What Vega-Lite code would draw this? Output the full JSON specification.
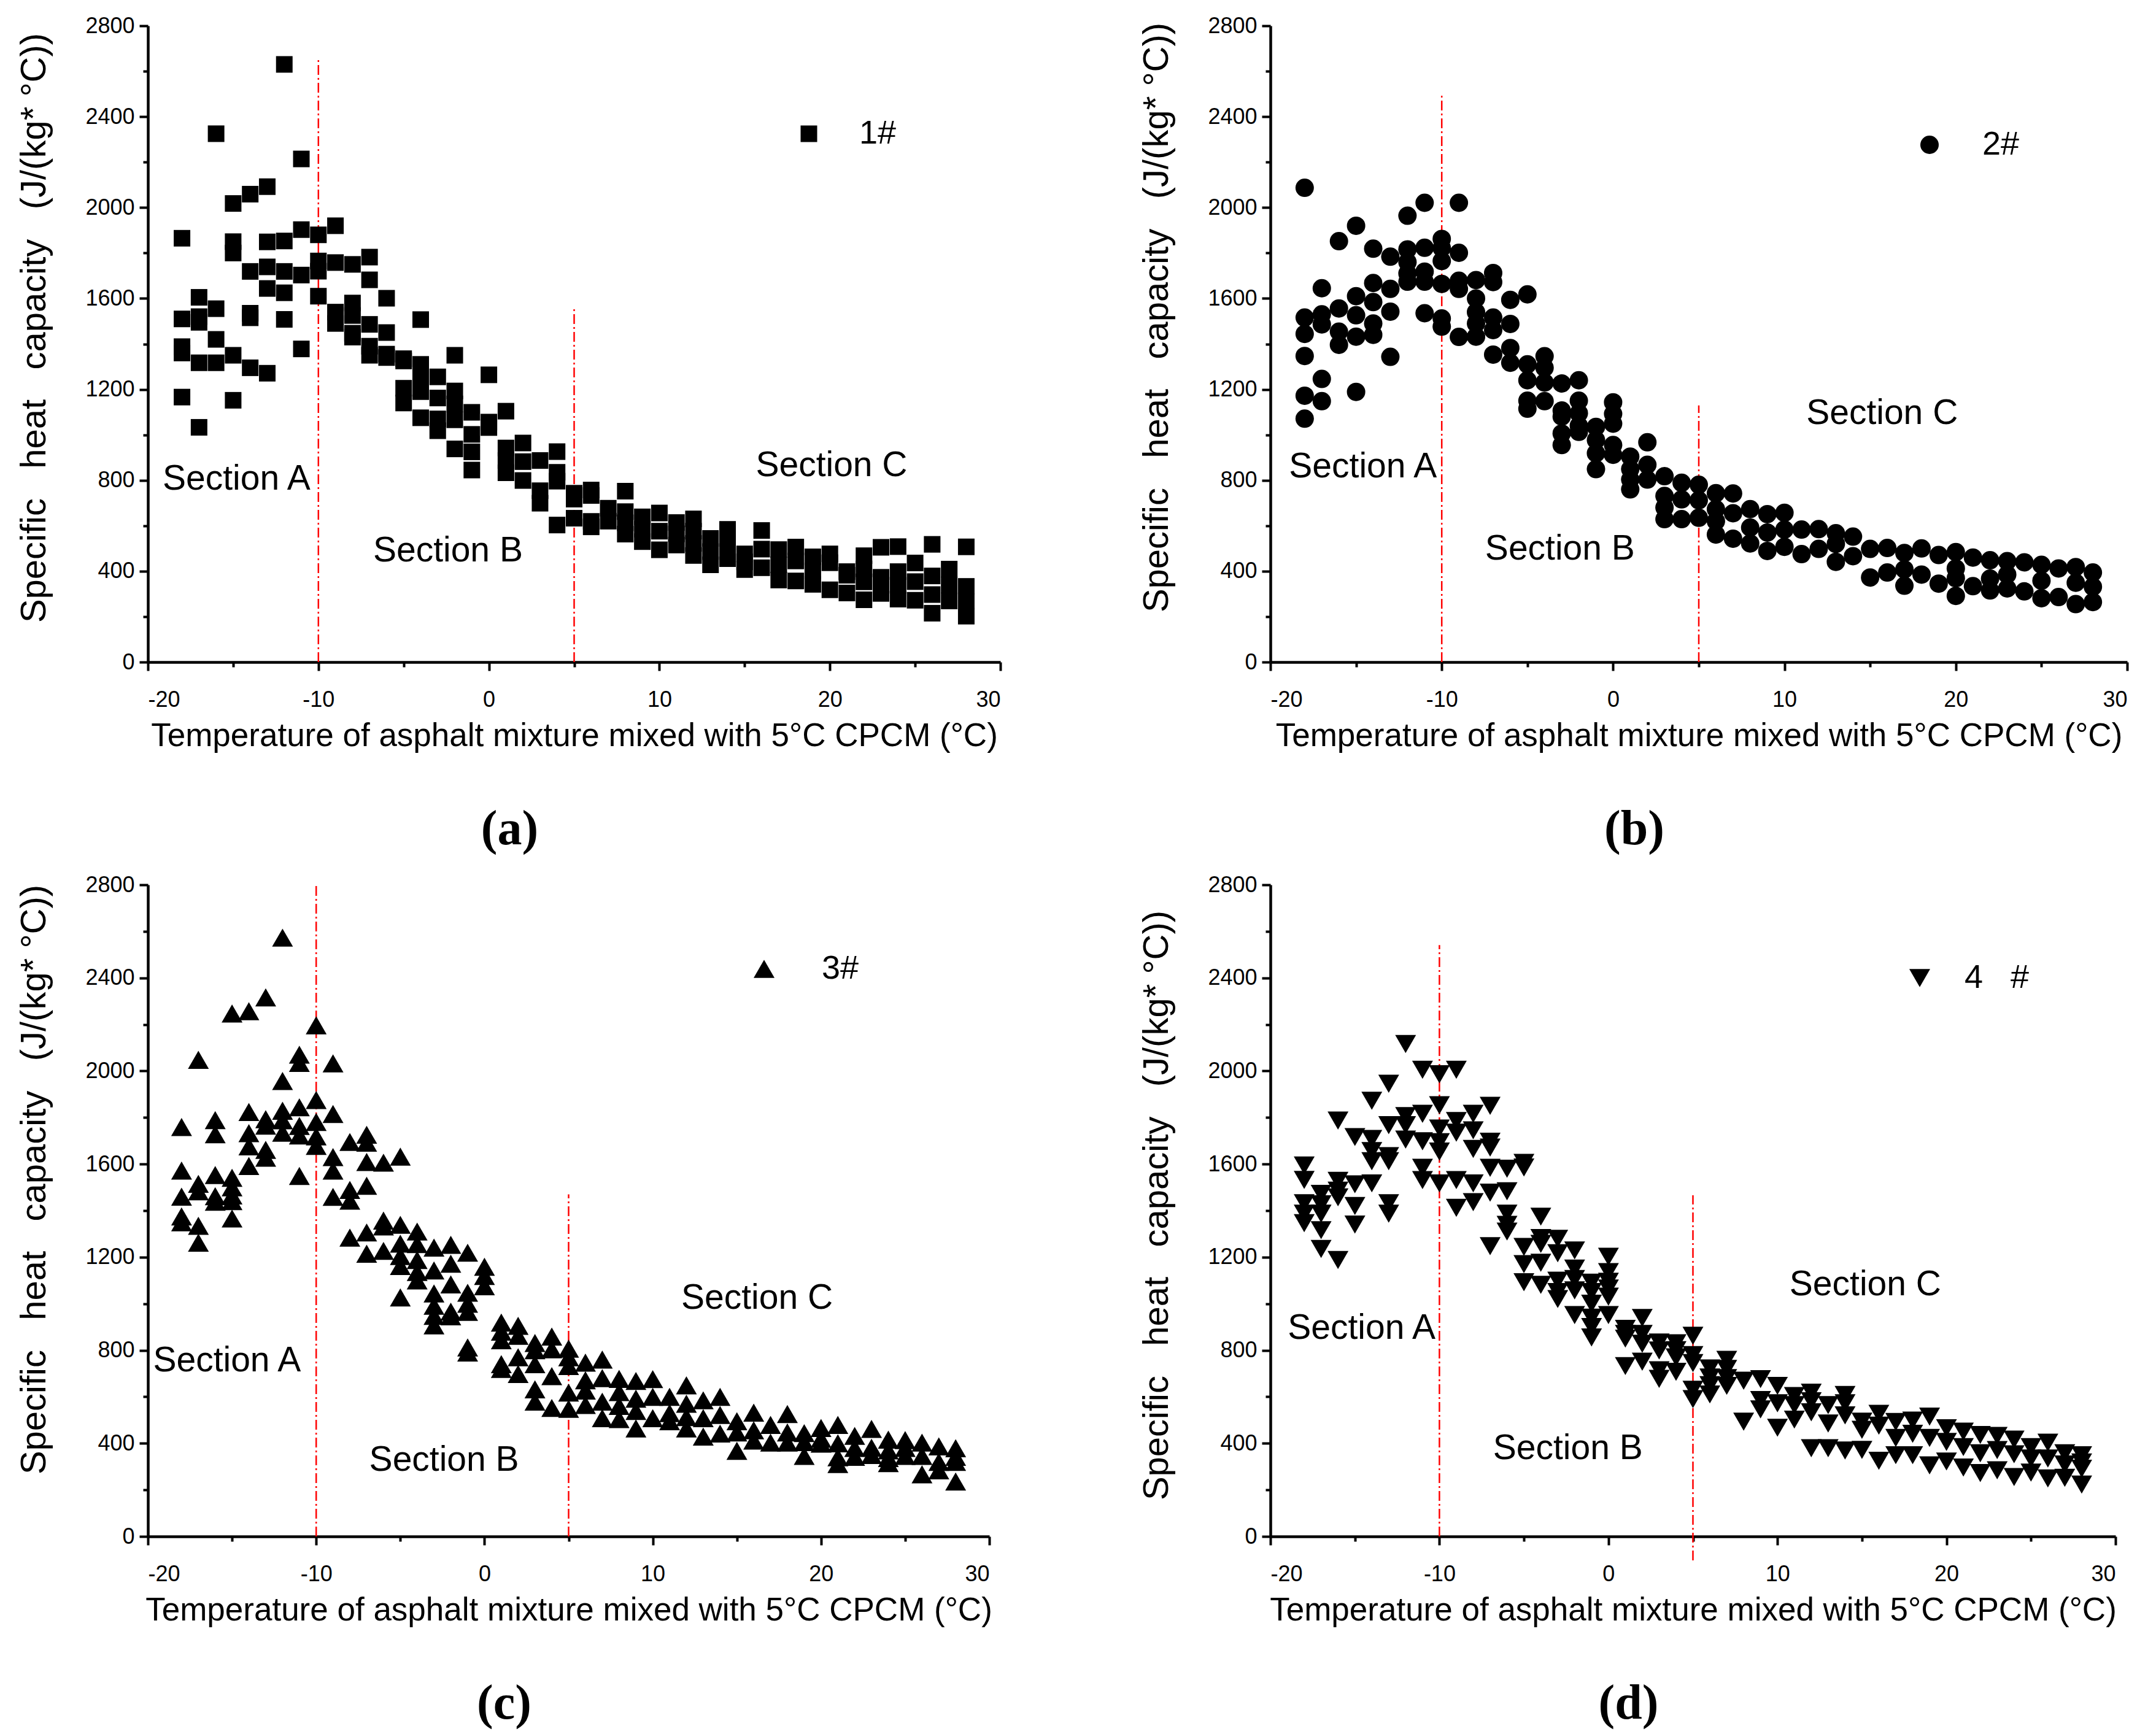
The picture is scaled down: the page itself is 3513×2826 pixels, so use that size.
{
  "$schema": "https://vega.github.io/schema/vega-lite/v6.json",
  "background": "white",
  "padding": {"left": 27, "top": 24, "right": 10, "bottom": 10},
  "datasets": {
    "rules": [
      {"sample": "1#", "temp": -10, "cp": 0, "cp_top": 2653},
      {"sample": "1#", "temp": 5, "cp": 0, "cp_top": 1556},
      {"sample": "2#", "temp": -10, "cp": 0, "cp_top": 2496},
      {"sample": "2#", "temp": 5, "cp": 0, "cp_top": 1129},
      {"sample": "3#", "temp": -10, "cp": 0, "cp_top": 2800},
      {"sample": "3#", "temp": 5, "cp": 0, "cp_top": 1470},
      {"sample": "4 #", "temp": -10, "cp": 0, "cp_top": 2541},
      {"sample": "4 #", "temp": 5, "cp": -103, "cp_top": 1466}
    ],
    "labels": [
      {"sample": "1#", "temp": -14.8, "cp": 804, "label": "Section A"},
      {"sample": "1#", "temp": -2.4, "cp": 490, "label": "Section B"},
      {"sample": "1#", "temp": 20.1, "cp": 863, "label": "Section C"},
      {"sample": "2#", "temp": -14.6, "cp": 859, "label": "Section A"},
      {"sample": "2#", "temp": -3.1, "cp": 497, "label": "Section B"},
      {"sample": "2#", "temp": 15.7, "cp": 1093, "label": "Section C"},
      {"sample": "3#", "temp": -15.3, "cp": 755, "label": "Section A"},
      {"sample": "3#", "temp": -2.4, "cp": 327, "label": "Section B"},
      {"sample": "3#", "temp": 16.2, "cp": 1024, "label": "Section C"},
      {"sample": "4 #", "temp": -14.6, "cp": 895, "label": "Section A"},
      {"sample": "4 #", "temp": -2.4, "cp": 377, "label": "Section B"},
      {"sample": "4 #", "temp": 15.2, "cp": 1082, "label": "Section C"}
    ],
    "points": [
      {"sample": "1#", "temp": -18, "cp": 1865}, {"sample": "1#", "temp": -18, "cp": 1510}, {"sample": "1#", "temp": -18, "cp": 1388}, {"sample": "1#", "temp": -18, "cp": 1360}, {"sample": "1#", "temp": -18, "cp": 1166},
      {"sample": "1#", "temp": -17, "cp": 1605}, {"sample": "1#", "temp": -17, "cp": 1520}, {"sample": "1#", "temp": -17, "cp": 1495}, {"sample": "1#", "temp": -17, "cp": 1317}, {"sample": "1#", "temp": -17, "cp": 1033},
      {"sample": "1#", "temp": -16, "cp": 2325}, {"sample": "1#", "temp": -16, "cp": 1555}, {"sample": "1#", "temp": -16, "cp": 1420}, {"sample": "1#", "temp": -16, "cp": 1317},
      {"sample": "1#", "temp": -15, "cp": 2018}, {"sample": "1#", "temp": -15, "cp": 1850}, {"sample": "1#", "temp": -15, "cp": 1800}, {"sample": "1#", "temp": -15, "cp": 1350}, {"sample": "1#", "temp": -15, "cp": 1152},
      {"sample": "1#", "temp": -14, "cp": 2059}, {"sample": "1#", "temp": -14, "cp": 1719}, {"sample": "1#", "temp": -14, "cp": 1535}, {"sample": "1#", "temp": -14, "cp": 1515}, {"sample": "1#", "temp": -14, "cp": 1295},
      {"sample": "1#", "temp": -13, "cp": 2092}, {"sample": "1#", "temp": -13, "cp": 1849}, {"sample": "1#", "temp": -13, "cp": 1739}, {"sample": "1#", "temp": -13, "cp": 1644}, {"sample": "1#", "temp": -13, "cp": 1271},
      {"sample": "1#", "temp": -12, "cp": 2630}, {"sample": "1#", "temp": -12, "cp": 1853}, {"sample": "1#", "temp": -12, "cp": 1719}, {"sample": "1#", "temp": -12, "cp": 1625}, {"sample": "1#", "temp": -12, "cp": 1508},
      {"sample": "1#", "temp": -11, "cp": 2214}, {"sample": "1#", "temp": -11, "cp": 1903}, {"sample": "1#", "temp": -11, "cp": 1703}, {"sample": "1#", "temp": -11, "cp": 1378},
      {"sample": "1#", "temp": -10, "cp": 1880}, {"sample": "1#", "temp": -10, "cp": 1765}, {"sample": "1#", "temp": -10, "cp": 1720}, {"sample": "1#", "temp": -10, "cp": 1610},
      {"sample": "1#", "temp": -9, "cp": 1920}, {"sample": "1#", "temp": -9, "cp": 1758}, {"sample": "1#", "temp": -9, "cp": 1540}, {"sample": "1#", "temp": -9, "cp": 1490},
      {"sample": "1#", "temp": -8, "cp": 1750}, {"sample": "1#", "temp": -8, "cp": 1580}, {"sample": "1#", "temp": -8, "cp": 1525}, {"sample": "1#", "temp": -8, "cp": 1447}, {"sample": "1#", "temp": -8, "cp": 1430},
      {"sample": "1#", "temp": -7, "cp": 1782}, {"sample": "1#", "temp": -7, "cp": 1682}, {"sample": "1#", "temp": -7, "cp": 1486}, {"sample": "1#", "temp": -7, "cp": 1390}, {"sample": "1#", "temp": -7, "cp": 1350},
      {"sample": "1#", "temp": -6, "cp": 1601}, {"sample": "1#", "temp": -6, "cp": 1450}, {"sample": "1#", "temp": -6, "cp": 1355}, {"sample": "1#", "temp": -6, "cp": 1340},
      {"sample": "1#", "temp": -5, "cp": 1335}, {"sample": "1#", "temp": -5, "cp": 1325}, {"sample": "1#", "temp": -5, "cp": 1205}, {"sample": "1#", "temp": -5, "cp": 1140},
      {"sample": "1#", "temp": -4, "cp": 1507}, {"sample": "1#", "temp": -4, "cp": 1310}, {"sample": "1#", "temp": -4, "cp": 1250}, {"sample": "1#", "temp": -4, "cp": 1190}, {"sample": "1#", "temp": -4, "cp": 1075},
      {"sample": "1#", "temp": -3, "cp": 1255}, {"sample": "1#", "temp": -3, "cp": 1162}, {"sample": "1#", "temp": -3, "cp": 1070}, {"sample": "1#", "temp": -3, "cp": 1018},
      {"sample": "1#", "temp": -2, "cp": 1350}, {"sample": "1#", "temp": -2, "cp": 1193}, {"sample": "1#", "temp": -2, "cp": 1136}, {"sample": "1#", "temp": -2, "cp": 1066}, {"sample": "1#", "temp": -2, "cp": 938},
      {"sample": "1#", "temp": -1, "cp": 1099}, {"sample": "1#", "temp": -1, "cp": 1002}, {"sample": "1#", "temp": -1, "cp": 925}, {"sample": "1#", "temp": -1, "cp": 845},
      {"sample": "1#", "temp": 0, "cp": 1264}, {"sample": "1#", "temp": 0, "cp": 1056}, {"sample": "1#", "temp": 0, "cp": 1032},
      {"sample": "1#", "temp": 1, "cp": 1104}, {"sample": "1#", "temp": 1, "cp": 942}, {"sample": "1#", "temp": 1, "cp": 887}, {"sample": "1#", "temp": 1, "cp": 833},
      {"sample": "1#", "temp": 2, "cp": 964}, {"sample": "1#", "temp": 2, "cp": 882}, {"sample": "1#", "temp": 2, "cp": 799},
      {"sample": "1#", "temp": 3, "cp": 887}, {"sample": "1#", "temp": 3, "cp": 754}, {"sample": "1#", "temp": 3, "cp": 699},
      {"sample": "1#", "temp": 4, "cp": 926}, {"sample": "1#", "temp": 4, "cp": 835}, {"sample": "1#", "temp": 4, "cp": 796}, {"sample": "1#", "temp": 4, "cp": 603},
      {"sample": "1#", "temp": 5, "cp": 743}, {"sample": "1#", "temp": 5, "cp": 717}, {"sample": "1#", "temp": 5, "cp": 633},
      {"sample": "1#", "temp": 6, "cp": 757}, {"sample": "1#", "temp": 6, "cp": 733}, {"sample": "1#", "temp": 6, "cp": 619}, {"sample": "1#", "temp": 6, "cp": 595},
      {"sample": "1#", "temp": 7, "cp": 677}, {"sample": "1#", "temp": 7, "cp": 620},
      {"sample": "1#", "temp": 8, "cp": 752}, {"sample": "1#", "temp": 8, "cp": 662}, {"sample": "1#", "temp": 8, "cp": 613}, {"sample": "1#", "temp": 8, "cp": 563},
      {"sample": "1#", "temp": 9, "cp": 639}, {"sample": "1#", "temp": 9, "cp": 585}, {"sample": "1#", "temp": 9, "cp": 530},
      {"sample": "1#", "temp": 10, "cp": 656}, {"sample": "1#", "temp": 10, "cp": 576}, {"sample": "1#", "temp": 10, "cp": 494},
      {"sample": "1#", "temp": 11, "cp": 614}, {"sample": "1#", "temp": 11, "cp": 564}, {"sample": "1#", "temp": 11, "cp": 515},
      {"sample": "1#", "temp": 12, "cp": 630}, {"sample": "1#", "temp": 12, "cp": 576}, {"sample": "1#", "temp": 12, "cp": 522}, {"sample": "1#", "temp": 12, "cp": 469},
      {"sample": "1#", "temp": 13, "cp": 544}, {"sample": "1#", "temp": 13, "cp": 486}, {"sample": "1#", "temp": 13, "cp": 428},
      {"sample": "1#", "temp": 14, "cp": 584}, {"sample": "1#", "temp": 14, "cp": 520}, {"sample": "1#", "temp": 14, "cp": 455},
      {"sample": "1#", "temp": 15, "cp": 476}, {"sample": "1#", "temp": 15, "cp": 441}, {"sample": "1#", "temp": 15, "cp": 407},
      {"sample": "1#", "temp": 16, "cp": 579}, {"sample": "1#", "temp": 16, "cp": 497}, {"sample": "1#", "temp": 16, "cp": 415},
      {"sample": "1#", "temp": 17, "cp": 495}, {"sample": "1#", "temp": 17, "cp": 428}, {"sample": "1#", "temp": 17, "cp": 361},
      {"sample": "1#", "temp": 18, "cp": 506}, {"sample": "1#", "temp": 18, "cp": 445}, {"sample": "1#", "temp": 18, "cp": 357},
      {"sample": "1#", "temp": 19, "cp": 463}, {"sample": "1#", "temp": 19, "cp": 402}, {"sample": "1#", "temp": 19, "cp": 342},
      {"sample": "1#", "temp": 20, "cp": 476}, {"sample": "1#", "temp": 20, "cp": 437}, {"sample": "1#", "temp": 20, "cp": 318},
      {"sample": "1#", "temp": 21, "cp": 398}, {"sample": "1#", "temp": 21, "cp": 382}, {"sample": "1#", "temp": 21, "cp": 304},
      {"sample": "1#", "temp": 22, "cp": 468}, {"sample": "1#", "temp": 22, "cp": 410}, {"sample": "1#", "temp": 22, "cp": 353}, {"sample": "1#", "temp": 22, "cp": 274},
      {"sample": "1#", "temp": 23, "cp": 505}, {"sample": "1#", "temp": 23, "cp": 373}, {"sample": "1#", "temp": 23, "cp": 302},
      {"sample": "1#", "temp": 24, "cp": 508}, {"sample": "1#", "temp": 24, "cp": 398}, {"sample": "1#", "temp": 24, "cp": 338}, {"sample": "1#", "temp": 24, "cp": 277},
      {"sample": "1#", "temp": 25, "cp": 436}, {"sample": "1#", "temp": 25, "cp": 354}, {"sample": "1#", "temp": 25, "cp": 272},
      {"sample": "1#", "temp": 26, "cp": 518}, {"sample": "1#", "temp": 26, "cp": 379}, {"sample": "1#", "temp": 26, "cp": 297}, {"sample": "1#", "temp": 26, "cp": 215},
      {"sample": "1#", "temp": 27, "cp": 409}, {"sample": "1#", "temp": 27, "cp": 339}, {"sample": "1#", "temp": 27, "cp": 269},
      {"sample": "1#", "temp": 28, "cp": 507}, {"sample": "1#", "temp": 28, "cp": 333}, {"sample": "1#", "temp": 28, "cp": 267}, {"sample": "1#", "temp": 28, "cp": 202},

      {"sample": "2#", "temp": -18, "cp": 2087}, {"sample": "2#", "temp": -18, "cp": 1516}, {"sample": "2#", "temp": -18, "cp": 1444}, {"sample": "2#", "temp": -18, "cp": 1347}, {"sample": "2#", "temp": -18, "cp": 1172}, {"sample": "2#", "temp": -18, "cp": 1071},
      {"sample": "2#", "temp": -17, "cp": 1645}, {"sample": "2#", "temp": -17, "cp": 1530}, {"sample": "2#", "temp": -17, "cp": 1486}, {"sample": "2#", "temp": -17, "cp": 1246}, {"sample": "2#", "temp": -17, "cp": 1148},
      {"sample": "2#", "temp": -16, "cp": 1852}, {"sample": "2#", "temp": -16, "cp": 1556}, {"sample": "2#", "temp": -16, "cp": 1454}, {"sample": "2#", "temp": -16, "cp": 1396},
      {"sample": "2#", "temp": -15, "cp": 1920}, {"sample": "2#", "temp": -15, "cp": 1610}, {"sample": "2#", "temp": -15, "cp": 1526}, {"sample": "2#", "temp": -15, "cp": 1432}, {"sample": "2#", "temp": -15, "cp": 1189},
      {"sample": "2#", "temp": -14, "cp": 1819}, {"sample": "2#", "temp": -14, "cp": 1668}, {"sample": "2#", "temp": -14, "cp": 1584}, {"sample": "2#", "temp": -14, "cp": 1490}, {"sample": "2#", "temp": -14, "cp": 1440},
      {"sample": "2#", "temp": -13, "cp": 1784}, {"sample": "2#", "temp": -13, "cp": 1642}, {"sample": "2#", "temp": -13, "cp": 1542}, {"sample": "2#", "temp": -13, "cp": 1343},
      {"sample": "2#", "temp": -12, "cp": 1964}, {"sample": "2#", "temp": -12, "cp": 1816}, {"sample": "2#", "temp": -12, "cp": 1760}, {"sample": "2#", "temp": -12, "cp": 1710}, {"sample": "2#", "temp": -12, "cp": 1674},
      {"sample": "2#", "temp": -11, "cp": 2021}, {"sample": "2#", "temp": -11, "cp": 1823}, {"sample": "2#", "temp": -11, "cp": 1718}, {"sample": "2#", "temp": -11, "cp": 1674}, {"sample": "2#", "temp": -11, "cp": 1535},
      {"sample": "2#", "temp": -10, "cp": 1862}, {"sample": "2#", "temp": -10, "cp": 1822}, {"sample": "2#", "temp": -10, "cp": 1765}, {"sample": "2#", "temp": -10, "cp": 1664}, {"sample": "2#", "temp": -10, "cp": 1512}, {"sample": "2#", "temp": -10, "cp": 1476},
      {"sample": "2#", "temp": -9, "cp": 2021}, {"sample": "2#", "temp": -9, "cp": 1801}, {"sample": "2#", "temp": -9, "cp": 1678}, {"sample": "2#", "temp": -9, "cp": 1642}, {"sample": "2#", "temp": -9, "cp": 1431},
      {"sample": "2#", "temp": -8, "cp": 1681}, {"sample": "2#", "temp": -8, "cp": 1600}, {"sample": "2#", "temp": -8, "cp": 1540}, {"sample": "2#", "temp": -8, "cp": 1490}, {"sample": "2#", "temp": -8, "cp": 1432},
      {"sample": "2#", "temp": -7, "cp": 1712}, {"sample": "2#", "temp": -7, "cp": 1672}, {"sample": "2#", "temp": -7, "cp": 1516}, {"sample": "2#", "temp": -7, "cp": 1461}, {"sample": "2#", "temp": -7, "cp": 1353},
      {"sample": "2#", "temp": -6, "cp": 1594}, {"sample": "2#", "temp": -6, "cp": 1488}, {"sample": "2#", "temp": -6, "cp": 1382}, {"sample": "2#", "temp": -6, "cp": 1317},
      {"sample": "2#", "temp": -5, "cp": 1618}, {"sample": "2#", "temp": -5, "cp": 1310}, {"sample": "2#", "temp": -5, "cp": 1240}, {"sample": "2#", "temp": -5, "cp": 1150}, {"sample": "2#", "temp": -5, "cp": 1115},
      {"sample": "2#", "temp": -4, "cp": 1346}, {"sample": "2#", "temp": -4, "cp": 1295}, {"sample": "2#", "temp": -4, "cp": 1230}, {"sample": "2#", "temp": -4, "cp": 1148},
      {"sample": "2#", "temp": -3, "cp": 1226}, {"sample": "2#", "temp": -3, "cp": 1107}, {"sample": "2#", "temp": -3, "cp": 1080}, {"sample": "2#", "temp": -3, "cp": 1006}, {"sample": "2#", "temp": -3, "cp": 955},
      {"sample": "2#", "temp": -2, "cp": 1240}, {"sample": "2#", "temp": -2, "cp": 1150}, {"sample": "2#", "temp": -2, "cp": 1095}, {"sample": "2#", "temp": -2, "cp": 1040}, {"sample": "2#", "temp": -2, "cp": 1013},
      {"sample": "2#", "temp": -1, "cp": 1035}, {"sample": "2#", "temp": -1, "cp": 977}, {"sample": "2#", "temp": -1, "cp": 919}, {"sample": "2#", "temp": -1, "cp": 849},
      {"sample": "2#", "temp": 0, "cp": 1143}, {"sample": "2#", "temp": 0, "cp": 1092}, {"sample": "2#", "temp": 0, "cp": 1049}, {"sample": "2#", "temp": 0, "cp": 955}, {"sample": "2#", "temp": 0, "cp": 912},
      {"sample": "2#", "temp": 1, "cp": 904}, {"sample": "2#", "temp": 1, "cp": 849}, {"sample": "2#", "temp": 1, "cp": 803}, {"sample": "2#", "temp": 1, "cp": 760},
      {"sample": "2#", "temp": 2, "cp": 967}, {"sample": "2#", "temp": 2, "cp": 868}, {"sample": "2#", "temp": 2, "cp": 803},
      {"sample": "2#", "temp": 3, "cp": 818}, {"sample": "2#", "temp": 3, "cp": 731}, {"sample": "2#", "temp": 3, "cp": 680}, {"sample": "2#", "temp": 3, "cp": 629},
      {"sample": "2#", "temp": 4, "cp": 789}, {"sample": "2#", "temp": 4, "cp": 716}, {"sample": "2#", "temp": 4, "cp": 629},
      {"sample": "2#", "temp": 5, "cp": 780}, {"sample": "2#", "temp": 5, "cp": 712}, {"sample": "2#", "temp": 5, "cp": 635},
      {"sample": "2#", "temp": 6, "cp": 743}, {"sample": "2#", "temp": 6, "cp": 673}, {"sample": "2#", "temp": 6, "cp": 620}, {"sample": "2#", "temp": 6, "cp": 561},
      {"sample": "2#", "temp": 7, "cp": 742}, {"sample": "2#", "temp": 7, "cp": 655}, {"sample": "2#", "temp": 7, "cp": 543},
      {"sample": "2#", "temp": 8, "cp": 673}, {"sample": "2#", "temp": 8, "cp": 592}, {"sample": "2#", "temp": 8, "cp": 522},
      {"sample": "2#", "temp": 9, "cp": 651}, {"sample": "2#", "temp": 9, "cp": 570}, {"sample": "2#", "temp": 9, "cp": 489},
      {"sample": "2#", "temp": 10, "cp": 657}, {"sample": "2#", "temp": 10, "cp": 583}, {"sample": "2#", "temp": 10, "cp": 507},
      {"sample": "2#", "temp": 11, "cp": 583}, {"sample": "2#", "temp": 11, "cp": 475},
      {"sample": "2#", "temp": 12, "cp": 585}, {"sample": "2#", "temp": 12, "cp": 498},
      {"sample": "2#", "temp": 13, "cp": 567}, {"sample": "2#", "temp": 13, "cp": 520}, {"sample": "2#", "temp": 13, "cp": 441},
      {"sample": "2#", "temp": 14, "cp": 552}, {"sample": "2#", "temp": 14, "cp": 466},
      {"sample": "2#", "temp": 15, "cp": 498}, {"sample": "2#", "temp": 15, "cp": 372},
      {"sample": "2#", "temp": 16, "cp": 502}, {"sample": "2#", "temp": 16, "cp": 394},
      {"sample": "2#", "temp": 17, "cp": 480}, {"sample": "2#", "temp": 17, "cp": 408}, {"sample": "2#", "temp": 17, "cp": 336},
      {"sample": "2#", "temp": 18, "cp": 500}, {"sample": "2#", "temp": 18, "cp": 385},
      {"sample": "2#", "temp": 19, "cp": 471}, {"sample": "2#", "temp": 19, "cp": 345},
      {"sample": "2#", "temp": 20, "cp": 484}, {"sample": "2#", "temp": 20, "cp": 412}, {"sample": "2#", "temp": 20, "cp": 369}, {"sample": "2#", "temp": 20, "cp": 291},
      {"sample": "2#", "temp": 21, "cp": 460}, {"sample": "2#", "temp": 21, "cp": 334},
      {"sample": "2#", "temp": 22, "cp": 448}, {"sample": "2#", "temp": 22, "cp": 367}, {"sample": "2#", "temp": 22, "cp": 315},
      {"sample": "2#", "temp": 23, "cp": 444}, {"sample": "2#", "temp": 23, "cp": 385}, {"sample": "2#", "temp": 23, "cp": 324},
      {"sample": "2#", "temp": 24, "cp": 439}, {"sample": "2#", "temp": 24, "cp": 311},
      {"sample": "2#", "temp": 25, "cp": 428}, {"sample": "2#", "temp": 25, "cp": 358}, {"sample": "2#", "temp": 25, "cp": 281},
      {"sample": "2#", "temp": 26, "cp": 412}, {"sample": "2#", "temp": 26, "cp": 286},
      {"sample": "2#", "temp": 27, "cp": 418}, {"sample": "2#", "temp": 27, "cp": 349}, {"sample": "2#", "temp": 27, "cp": 255},
      {"sample": "2#", "temp": 28, "cp": 394}, {"sample": "2#", "temp": 28, "cp": 331}, {"sample": "2#", "temp": 28, "cp": 264},

      {"sample": "3#", "temp": -18, "cp": 1759}, {"sample": "3#", "temp": -18, "cp": 1572}, {"sample": "3#", "temp": -18, "cp": 1460}, {"sample": "3#", "temp": -18, "cp": 1375}, {"sample": "3#", "temp": -18, "cp": 1350},
      {"sample": "3#", "temp": -17, "cp": 2048}, {"sample": "3#", "temp": -17, "cp": 1515}, {"sample": "3#", "temp": -17, "cp": 1483}, {"sample": "3#", "temp": -17, "cp": 1335}, {"sample": "3#", "temp": -17, "cp": 1262},
      {"sample": "3#", "temp": -16, "cp": 1789}, {"sample": "3#", "temp": -16, "cp": 1728}, {"sample": "3#", "temp": -16, "cp": 1553}, {"sample": "3#", "temp": -16, "cp": 1462}, {"sample": "3#", "temp": -16, "cp": 1438},
      {"sample": "3#", "temp": -15, "cp": 2247}, {"sample": "3#", "temp": -15, "cp": 1541}, {"sample": "3#", "temp": -15, "cp": 1500}, {"sample": "3#", "temp": -15, "cp": 1465}, {"sample": "3#", "temp": -15, "cp": 1441}, {"sample": "3#", "temp": -15, "cp": 1366},
      {"sample": "3#", "temp": -14, "cp": 2257}, {"sample": "3#", "temp": -14, "cp": 1824}, {"sample": "3#", "temp": -14, "cp": 1733}, {"sample": "3#", "temp": -14, "cp": 1676}, {"sample": "3#", "temp": -14, "cp": 1592},
      {"sample": "3#", "temp": -13, "cp": 2316}, {"sample": "3#", "temp": -13, "cp": 1793}, {"sample": "3#", "temp": -13, "cp": 1765}, {"sample": "3#", "temp": -13, "cp": 1661}, {"sample": "3#", "temp": -13, "cp": 1627},
      {"sample": "3#", "temp": -12, "cp": 2573}, {"sample": "3#", "temp": -12, "cp": 1957}, {"sample": "3#", "temp": -12, "cp": 1829}, {"sample": "3#", "temp": -12, "cp": 1788}, {"sample": "3#", "temp": -12, "cp": 1735},
      {"sample": "3#", "temp": -11, "cp": 2070}, {"sample": "3#", "temp": -11, "cp": 2035}, {"sample": "3#", "temp": -11, "cp": 1844}, {"sample": "3#", "temp": -11, "cp": 1764}, {"sample": "3#", "temp": -11, "cp": 1723}, {"sample": "3#", "temp": -11, "cp": 1549},
      {"sample": "3#", "temp": -10, "cp": 2196}, {"sample": "3#", "temp": -10, "cp": 1875}, {"sample": "3#", "temp": -10, "cp": 1781}, {"sample": "3#", "temp": -10, "cp": 1719}, {"sample": "3#", "temp": -10, "cp": 1678},
      {"sample": "3#", "temp": -9, "cp": 2033}, {"sample": "3#", "temp": -9, "cp": 1815}, {"sample": "3#", "temp": -9, "cp": 1630}, {"sample": "3#", "temp": -9, "cp": 1572}, {"sample": "3#", "temp": -9, "cp": 1459},
      {"sample": "3#", "temp": -8, "cp": 1695}, {"sample": "3#", "temp": -8, "cp": 1489}, {"sample": "3#", "temp": -8, "cp": 1443}, {"sample": "3#", "temp": -8, "cp": 1284},
      {"sample": "3#", "temp": -7, "cp": 1726}, {"sample": "3#", "temp": -7, "cp": 1692}, {"sample": "3#", "temp": -7, "cp": 1609}, {"sample": "3#", "temp": -7, "cp": 1507}, {"sample": "3#", "temp": -7, "cp": 1306}, {"sample": "3#", "temp": -7, "cp": 1215},
      {"sample": "3#", "temp": -6, "cp": 1606}, {"sample": "3#", "temp": -6, "cp": 1357}, {"sample": "3#", "temp": -6, "cp": 1332}, {"sample": "3#", "temp": -6, "cp": 1227},
      {"sample": "3#", "temp": -5, "cp": 1632}, {"sample": "3#", "temp": -5, "cp": 1339}, {"sample": "3#", "temp": -5, "cp": 1258}, {"sample": "3#", "temp": -5, "cp": 1205}, {"sample": "3#", "temp": -5, "cp": 1162}, {"sample": "3#", "temp": -5, "cp": 1027},
      {"sample": "3#", "temp": -4, "cp": 1310}, {"sample": "3#", "temp": -4, "cp": 1256}, {"sample": "3#", "temp": -4, "cp": 1188}, {"sample": "3#", "temp": -4, "cp": 1136}, {"sample": "3#", "temp": -4, "cp": 1100},
      {"sample": "3#", "temp": -3, "cp": 1241}, {"sample": "3#", "temp": -3, "cp": 1143}, {"sample": "3#", "temp": -3, "cp": 1044}, {"sample": "3#", "temp": -3, "cp": 991}, {"sample": "3#", "temp": -3, "cp": 948}, {"sample": "3#", "temp": -3, "cp": 907},
      {"sample": "3#", "temp": -2, "cp": 1253}, {"sample": "3#", "temp": -2, "cp": 1172}, {"sample": "3#", "temp": -2, "cp": 1083}, {"sample": "3#", "temp": -2, "cp": 966}, {"sample": "3#", "temp": -2, "cp": 946},
      {"sample": "3#", "temp": -1, "cp": 1219}, {"sample": "3#", "temp": -1, "cp": 1047}, {"sample": "3#", "temp": -1, "cp": 1000}, {"sample": "3#", "temp": -1, "cp": 965}, {"sample": "3#", "temp": -1, "cp": 812}, {"sample": "3#", "temp": -1, "cp": 790},
      {"sample": "3#", "temp": 0, "cp": 1159}, {"sample": "3#", "temp": 0, "cp": 1119}, {"sample": "3#", "temp": 0, "cp": 1075},
      {"sample": "3#", "temp": 1, "cp": 919}, {"sample": "3#", "temp": 1, "cp": 880}, {"sample": "3#", "temp": 1, "cp": 843}, {"sample": "3#", "temp": 1, "cp": 740}, {"sample": "3#", "temp": 1, "cp": 720},
      {"sample": "3#", "temp": 2, "cp": 905}, {"sample": "3#", "temp": 2, "cp": 862}, {"sample": "3#", "temp": 2, "cp": 770}, {"sample": "3#", "temp": 2, "cp": 698},
      {"sample": "3#", "temp": 3, "cp": 831}, {"sample": "3#", "temp": 3, "cp": 800}, {"sample": "3#", "temp": 3, "cp": 740}, {"sample": "3#", "temp": 3, "cp": 632}, {"sample": "3#", "temp": 3, "cp": 579},
      {"sample": "3#", "temp": 4, "cp": 859}, {"sample": "3#", "temp": 4, "cp": 804}, {"sample": "3#", "temp": 4, "cp": 689}, {"sample": "3#", "temp": 4, "cp": 552},
      {"sample": "3#", "temp": 5, "cp": 807}, {"sample": "3#", "temp": 5, "cp": 770}, {"sample": "3#", "temp": 5, "cp": 732}, {"sample": "3#", "temp": 5, "cp": 618}, {"sample": "3#", "temp": 5, "cp": 548},
      {"sample": "3#", "temp": 6, "cp": 747}, {"sample": "3#", "temp": 6, "cp": 671}, {"sample": "3#", "temp": 6, "cp": 627}, {"sample": "3#", "temp": 6, "cp": 565},
      {"sample": "3#", "temp": 7, "cp": 760}, {"sample": "3#", "temp": 7, "cp": 680}, {"sample": "3#", "temp": 7, "cp": 579}, {"sample": "3#", "temp": 7, "cp": 508},
      {"sample": "3#", "temp": 8, "cp": 677}, {"sample": "3#", "temp": 8, "cp": 620}, {"sample": "3#", "temp": 8, "cp": 561}, {"sample": "3#", "temp": 8, "cp": 504},
      {"sample": "3#", "temp": 9, "cp": 668}, {"sample": "3#", "temp": 9, "cp": 592}, {"sample": "3#", "temp": 9, "cp": 539}, {"sample": "3#", "temp": 9, "cp": 464},
      {"sample": "3#", "temp": 10, "cp": 676}, {"sample": "3#", "temp": 10, "cp": 600}, {"sample": "3#", "temp": 10, "cp": 508},
      {"sample": "3#", "temp": 11, "cp": 600}, {"sample": "3#", "temp": 11, "cp": 530}, {"sample": "3#", "temp": 11, "cp": 495},
      {"sample": "3#", "temp": 12, "cp": 649}, {"sample": "3#", "temp": 12, "cp": 570}, {"sample": "3#", "temp": 12, "cp": 513}, {"sample": "3#", "temp": 12, "cp": 464},
      {"sample": "3#", "temp": 13, "cp": 585}, {"sample": "3#", "temp": 13, "cp": 508}, {"sample": "3#", "temp": 13, "cp": 429},
      {"sample": "3#", "temp": 14, "cp": 600}, {"sample": "3#", "temp": 14, "cp": 522}, {"sample": "3#", "temp": 14, "cp": 442},
      {"sample": "3#", "temp": 15, "cp": 495}, {"sample": "3#", "temp": 15, "cp": 447}, {"sample": "3#", "temp": 15, "cp": 368},
      {"sample": "3#", "temp": 16, "cp": 532}, {"sample": "3#", "temp": 16, "cp": 456}, {"sample": "3#", "temp": 16, "cp": 412},
      {"sample": "3#", "temp": 17, "cp": 479}, {"sample": "3#", "temp": 17, "cp": 403},
      {"sample": "3#", "temp": 18, "cp": 526}, {"sample": "3#", "temp": 18, "cp": 447}, {"sample": "3#", "temp": 18, "cp": 403},
      {"sample": "3#", "temp": 19, "cp": 444}, {"sample": "3#", "temp": 19, "cp": 405}, {"sample": "3#", "temp": 19, "cp": 346},
      {"sample": "3#", "temp": 20, "cp": 466}, {"sample": "3#", "temp": 20, "cp": 420}, {"sample": "3#", "temp": 20, "cp": 399},
      {"sample": "3#", "temp": 21, "cp": 479}, {"sample": "3#", "temp": 21, "cp": 400}, {"sample": "3#", "temp": 21, "cp": 340}, {"sample": "3#", "temp": 21, "cp": 311},
      {"sample": "3#", "temp": 22, "cp": 432}, {"sample": "3#", "temp": 22, "cp": 380}, {"sample": "3#", "temp": 22, "cp": 342},
      {"sample": "3#", "temp": 23, "cp": 462}, {"sample": "3#", "temp": 23, "cp": 381}, {"sample": "3#", "temp": 23, "cp": 350},
      {"sample": "3#", "temp": 24, "cp": 416}, {"sample": "3#", "temp": 24, "cp": 370}, {"sample": "3#", "temp": 24, "cp": 337}, {"sample": "3#", "temp": 24, "cp": 315},
      {"sample": "3#", "temp": 25, "cp": 414}, {"sample": "3#", "temp": 25, "cp": 380}, {"sample": "3#", "temp": 25, "cp": 346},
      {"sample": "3#", "temp": 26, "cp": 403}, {"sample": "3#", "temp": 26, "cp": 346}, {"sample": "3#", "temp": 26, "cp": 267},
      {"sample": "3#", "temp": 27, "cp": 387}, {"sample": "3#", "temp": 27, "cp": 320}, {"sample": "3#", "temp": 27, "cp": 284},
      {"sample": "3#", "temp": 28, "cp": 379}, {"sample": "3#", "temp": 28, "cp": 342}, {"sample": "3#", "temp": 28, "cp": 320}, {"sample": "3#", "temp": 28, "cp": 236},

      {"sample": "4 #", "temp": -18, "cp": 1594}, {"sample": "4 #", "temp": -18, "cp": 1532}, {"sample": "4 #", "temp": -18, "cp": 1432}, {"sample": "4 #", "temp": -18, "cp": 1387}, {"sample": "4 #", "temp": -18, "cp": 1346},
      {"sample": "4 #", "temp": -17, "cp": 1472}, {"sample": "4 #", "temp": -17, "cp": 1427}, {"sample": "4 #", "temp": -17, "cp": 1387}, {"sample": "4 #", "temp": -17, "cp": 1316}, {"sample": "4 #", "temp": -17, "cp": 1235},
      {"sample": "4 #", "temp": -16, "cp": 1787}, {"sample": "4 #", "temp": -16, "cp": 1528}, {"sample": "4 #", "temp": -16, "cp": 1486}, {"sample": "4 #", "temp": -16, "cp": 1457}, {"sample": "4 #", "temp": -16, "cp": 1188},
      {"sample": "4 #", "temp": -15, "cp": 1716}, {"sample": "4 #", "temp": -15, "cp": 1513}, {"sample": "4 #", "temp": -15, "cp": 1420}, {"sample": "4 #", "temp": -15, "cp": 1340},
      {"sample": "4 #", "temp": -14, "cp": 1872}, {"sample": "4 #", "temp": -14, "cp": 1708}, {"sample": "4 #", "temp": -14, "cp": 1656}, {"sample": "4 #", "temp": -14, "cp": 1612}, {"sample": "4 #", "temp": -14, "cp": 1517},
      {"sample": "4 #", "temp": -13, "cp": 1945}, {"sample": "4 #", "temp": -13, "cp": 1767}, {"sample": "4 #", "temp": -13, "cp": 1634}, {"sample": "4 #", "temp": -13, "cp": 1612}, {"sample": "4 #", "temp": -13, "cp": 1432}, {"sample": "4 #", "temp": -13, "cp": 1387},
      {"sample": "4 #", "temp": -12, "cp": 2116}, {"sample": "4 #", "temp": -12, "cp": 1806}, {"sample": "4 #", "temp": -12, "cp": 1767}, {"sample": "4 #", "temp": -12, "cp": 1705},
      {"sample": "4 #", "temp": -11, "cp": 2005}, {"sample": "4 #", "temp": -11, "cp": 1816}, {"sample": "4 #", "temp": -11, "cp": 1698}, {"sample": "4 #", "temp": -11, "cp": 1584}, {"sample": "4 #", "temp": -11, "cp": 1531},
      {"sample": "4 #", "temp": -10, "cp": 1986}, {"sample": "4 #", "temp": -10, "cp": 1853}, {"sample": "4 #", "temp": -10, "cp": 1753}, {"sample": "4 #", "temp": -10, "cp": 1694}, {"sample": "4 #", "temp": -10, "cp": 1654}, {"sample": "4 #", "temp": -10, "cp": 1517},
      {"sample": "4 #", "temp": -9, "cp": 2005}, {"sample": "4 #", "temp": -9, "cp": 1785}, {"sample": "4 #", "temp": -9, "cp": 1735}, {"sample": "4 #", "temp": -9, "cp": 1531}, {"sample": "4 #", "temp": -9, "cp": 1412},
      {"sample": "4 #", "temp": -8, "cp": 1816}, {"sample": "4 #", "temp": -8, "cp": 1745}, {"sample": "4 #", "temp": -8, "cp": 1665}, {"sample": "4 #", "temp": -8, "cp": 1517}, {"sample": "4 #", "temp": -8, "cp": 1436},
      {"sample": "4 #", "temp": -7, "cp": 1850}, {"sample": "4 #", "temp": -7, "cp": 1696}, {"sample": "4 #", "temp": -7, "cp": 1671}, {"sample": "4 #", "temp": -7, "cp": 1584}, {"sample": "4 #", "temp": -7, "cp": 1477}, {"sample": "4 #", "temp": -7, "cp": 1247},
      {"sample": "4 #", "temp": -6, "cp": 1580}, {"sample": "4 #", "temp": -6, "cp": 1483}, {"sample": "4 #", "temp": -6, "cp": 1387}, {"sample": "4 #", "temp": -6, "cp": 1339}, {"sample": "4 #", "temp": -6, "cp": 1310},
      {"sample": "4 #", "temp": -5, "cp": 1605}, {"sample": "4 #", "temp": -5, "cp": 1585}, {"sample": "4 #", "temp": -5, "cp": 1244}, {"sample": "4 #", "temp": -5, "cp": 1170}, {"sample": "4 #", "temp": -5, "cp": 1092},
      {"sample": "4 #", "temp": -4, "cp": 1374}, {"sample": "4 #", "temp": -4, "cp": 1282}, {"sample": "4 #", "temp": -4, "cp": 1257}, {"sample": "4 #", "temp": -4, "cp": 1176}, {"sample": "4 #", "temp": -4, "cp": 1081},
      {"sample": "4 #", "temp": -3, "cp": 1279}, {"sample": "4 #", "temp": -3, "cp": 1217}, {"sample": "4 #", "temp": -3, "cp": 1099}, {"sample": "4 #", "temp": -3, "cp": 1050}, {"sample": "4 #", "temp": -3, "cp": 1020},
      {"sample": "4 #", "temp": -2, "cp": 1229}, {"sample": "4 #", "temp": -2, "cp": 1151}, {"sample": "4 #", "temp": -2, "cp": 1106}, {"sample": "4 #", "temp": -2, "cp": 1057}, {"sample": "4 #", "temp": -2, "cp": 951},
      {"sample": "4 #", "temp": -1, "cp": 1090}, {"sample": "4 #", "temp": -1, "cp": 1050}, {"sample": "4 #", "temp": -1, "cp": 1000}, {"sample": "4 #", "temp": -1, "cp": 940}, {"sample": "4 #", "temp": -1, "cp": 900}, {"sample": "4 #", "temp": -1, "cp": 855},
      {"sample": "4 #", "temp": 0, "cp": 1202}, {"sample": "4 #", "temp": 0, "cp": 1136}, {"sample": "4 #", "temp": 0, "cp": 1094}, {"sample": "4 #", "temp": 0, "cp": 1065}, {"sample": "4 #", "temp": 0, "cp": 1030}, {"sample": "4 #", "temp": 0, "cp": 951},
      {"sample": "4 #", "temp": 1, "cp": 892}, {"sample": "4 #", "temp": 1, "cp": 870}, {"sample": "4 #", "temp": 1, "cp": 850}, {"sample": "4 #", "temp": 1, "cp": 732},
      {"sample": "4 #", "temp": 2, "cp": 939}, {"sample": "4 #", "temp": 2, "cp": 870}, {"sample": "4 #", "temp": 2, "cp": 828}, {"sample": "4 #", "temp": 2, "cp": 751},
      {"sample": "4 #", "temp": 3, "cp": 833}, {"sample": "4 #", "temp": 3, "cp": 799}, {"sample": "4 #", "temp": 3, "cp": 714}, {"sample": "4 #", "temp": 3, "cp": 677},
      {"sample": "4 #", "temp": 4, "cp": 830}, {"sample": "4 #", "temp": 4, "cp": 800}, {"sample": "4 #", "temp": 4, "cp": 769}, {"sample": "4 #", "temp": 4, "cp": 707},
      {"sample": "4 #", "temp": 5, "cp": 862}, {"sample": "4 #", "temp": 5, "cp": 779}, {"sample": "4 #", "temp": 5, "cp": 745}, {"sample": "4 #", "temp": 5, "cp": 630}, {"sample": "4 #", "temp": 5, "cp": 590},
      {"sample": "4 #", "temp": 6, "cp": 722}, {"sample": "4 #", "temp": 6, "cp": 683}, {"sample": "4 #", "temp": 6, "cp": 650}, {"sample": "4 #", "temp": 6, "cp": 610},
      {"sample": "4 #", "temp": 7, "cp": 759}, {"sample": "4 #", "temp": 7, "cp": 720}, {"sample": "4 #", "temp": 7, "cp": 680}, {"sample": "4 #", "temp": 7, "cp": 647},
      {"sample": "4 #", "temp": 8, "cp": 669}, {"sample": "4 #", "temp": 8, "cp": 493},
      {"sample": "4 #", "temp": 9, "cp": 676}, {"sample": "4 #", "temp": 9, "cp": 586}, {"sample": "4 #", "temp": 9, "cp": 546},
      {"sample": "4 #", "temp": 10, "cp": 647}, {"sample": "4 #", "temp": 10, "cp": 572}, {"sample": "4 #", "temp": 10, "cp": 467},
      {"sample": "4 #", "temp": 11, "cp": 603}, {"sample": "4 #", "temp": 11, "cp": 564}, {"sample": "4 #", "temp": 11, "cp": 502},
      {"sample": "4 #", "temp": 12, "cp": 618}, {"sample": "4 #", "temp": 12, "cp": 581}, {"sample": "4 #", "temp": 12, "cp": 533}, {"sample": "4 #", "temp": 12, "cp": 379},
      {"sample": "4 #", "temp": 13, "cp": 564}, {"sample": "4 #", "temp": 13, "cp": 485}, {"sample": "4 #", "temp": 13, "cp": 379},
      {"sample": "4 #", "temp": 14, "cp": 608}, {"sample": "4 #", "temp": 14, "cp": 572}, {"sample": "4 #", "temp": 14, "cp": 520}, {"sample": "4 #", "temp": 14, "cp": 369},
      {"sample": "4 #", "temp": 15, "cp": 493}, {"sample": "4 #", "temp": 15, "cp": 458}, {"sample": "4 #", "temp": 15, "cp": 372},
      {"sample": "4 #", "temp": 16, "cp": 527}, {"sample": "4 #", "temp": 16, "cp": 476}, {"sample": "4 #", "temp": 16, "cp": 325},
      {"sample": "4 #", "temp": 17, "cp": 492}, {"sample": "4 #", "temp": 17, "cp": 423}, {"sample": "4 #", "temp": 17, "cp": 349},
      {"sample": "4 #", "temp": 18, "cp": 498}, {"sample": "4 #", "temp": 18, "cp": 441}, {"sample": "4 #", "temp": 18, "cp": 349},
      {"sample": "4 #", "temp": 19, "cp": 515}, {"sample": "4 #", "temp": 19, "cp": 423}, {"sample": "4 #", "temp": 19, "cp": 305},
      {"sample": "4 #", "temp": 20, "cp": 465}, {"sample": "4 #", "temp": 20, "cp": 406}, {"sample": "4 #", "temp": 20, "cp": 322},
      {"sample": "4 #", "temp": 21, "cp": 450}, {"sample": "4 #", "temp": 21, "cp": 384}, {"sample": "4 #", "temp": 21, "cp": 296},
      {"sample": "4 #", "temp": 22, "cp": 436}, {"sample": "4 #", "temp": 22, "cp": 357}, {"sample": "4 #", "temp": 22, "cp": 272},
      {"sample": "4 #", "temp": 23, "cp": 432}, {"sample": "4 #", "temp": 23, "cp": 371}, {"sample": "4 #", "temp": 23, "cp": 284},
      {"sample": "4 #", "temp": 24, "cp": 416}, {"sample": "4 #", "temp": 24, "cp": 353}, {"sample": "4 #", "temp": 24, "cp": 255},
      {"sample": "4 #", "temp": 25, "cp": 384}, {"sample": "4 #", "temp": 25, "cp": 335}, {"sample": "4 #", "temp": 25, "cp": 274},
      {"sample": "4 #", "temp": 26, "cp": 403}, {"sample": "4 #", "temp": 26, "cp": 335}, {"sample": "4 #", "temp": 26, "cp": 249},
      {"sample": "4 #", "temp": 27, "cp": 357}, {"sample": "4 #", "temp": 27, "cp": 309}, {"sample": "4 #", "temp": 27, "cp": 252},
      {"sample": "4 #", "temp": 28, "cp": 349}, {"sample": "4 #", "temp": 28, "cp": 318}, {"sample": "4 #", "temp": 28, "cp": 291}, {"sample": "4 #", "temp": 28, "cp": 223}
    ]
  },
  "columns": 2,
  "spacing": {"row": 363, "column": 440},
  "bounds": "flush",
  "resolve": {"scale": {"color": "independent", "shape": "independent"}},
  "concat": [
    {
      "width": 1389,
      "height": 1037,
      "title": {"text": "(a)"},
      "encoding": {
        "x": {"field": "temp", "type": "quantitative", "scale": {"domain": [-20, 30], "nice": false}, "axis": {"title": "Temperature of asphalt mixture mixed with 5°C CPCM (°C)", "values": [-20, -15, -10, -5, 0, 5, 10, 15, 20, 25, 30], "labelExpr": "datum.value % 10 === 0 ? '' + datum.value : ''", "tickSize": {"condition": {"test": "datum.value % 10 === 0", "value": 14}, "value": 8}}},
        "y": {"field": "cp", "type": "quantitative", "scale": {"domain": [0, 2800], "nice": false}, "axis": {"title": "Specific\u00a0\u00a0\u00a0heat\u00a0\u00a0\u00a0capacity\u00a0\u00a0\u00a0(J/(kg*\u00a0°C))", "titleY": 492, "values": [0, 200, 400, 600, 800, 1000, 1200, 1400, 1600, 1800, 2000, 2200, 2400, 2600, 2800], "labelExpr": "datum.value % 400 === 0 ? '' + datum.value : ''", "tickSize": {"condition": {"test": "datum.value % 400 === 0", "value": 14}, "value": 8}}}
      },
      "layer": [
        {"data": {"name": "rules"}, "transform": [{"filter": "datum.sample === '1#'"}], "mark": {"type": "rule", "color": "#ff0000", "strokeWidth": 2.5, "strokeDash": [16, 5, 3, 5]}, "encoding": {"y2": {"field": "cp_top"}}},
        {"data": {"name": "points"}, "transform": [{"filter": "datum.sample === '1#'"}], "mark": {"type": "point", "filled": true, "opacity": 1, "size": 729},
         "encoding": {
           "color": {"field": "sample", "type": "nominal", "scale": {"range": ["#000000"]}, "legend": {"title": null, "orient": "none", "legendX": 1050, "legendY": 149, "labelOffset": 55, "symbolSize": 729}},
           "shape": {"field": "sample", "type": "nominal", "scale": {"range": ["square"]}, "legend": {"title": null, "orient": "none", "legendX": 1050, "legendY": 149, "labelOffset": 55, "symbolSize": 729}}
         }},
        {"data": {"name": "labels"}, "transform": [{"filter": "datum.sample === '1#'"}], "mark": {"type": "text", "font": "Liberation Sans, sans-serif", "fontSize": 57, "color": "black"}, "encoding": {"text": {"field": "label"}}}
      ]
    },
    {
      "width": 1396,
      "height": 1037,
      "title": {"text": "(b)"},
      "encoding": {
        "x": {"field": "temp", "type": "quantitative", "scale": {"domain": [-20, 30], "nice": false}, "axis": {"title": "Temperature of asphalt mixture mixed with 5°C CPCM (°C)", "values": [-20, -15, -10, -5, 0, 5, 10, 15, 20, 25, 30], "labelExpr": "datum.value % 10 === 0 ? '' + datum.value : ''", "tickSize": {"condition": {"test": "datum.value % 10 === 0", "value": 14}, "value": 8}}},
        "y": {"field": "cp", "type": "quantitative", "scale": {"domain": [0, 2800], "nice": false}, "axis": {"title": "Specific\u00a0\u00a0\u00a0heat\u00a0\u00a0\u00a0capacity\u00a0\u00a0\u00a0(J/(kg*\u00a0°C))", "titleY": 475, "values": [0, 200, 400, 600, 800, 1000, 1200, 1400, 1600, 1800, 2000, 2200, 2400, 2600, 2800], "labelExpr": "datum.value % 400 === 0 ? '' + datum.value : ''", "tickSize": {"condition": {"test": "datum.value % 400 === 0", "value": 14}, "value": 8}}}
      },
      "layer": [
        {"data": {"name": "rules"}, "transform": [{"filter": "datum.sample === '2#'"}], "mark": {"type": "rule", "color": "#ff0000", "strokeWidth": 2.5, "strokeDash": [16, 5, 3, 5]}, "encoding": {"y2": {"field": "cp_top"}}},
        {"data": {"name": "points"}, "transform": [{"filter": "datum.sample === '2#'"}], "mark": {"type": "point", "filled": true, "opacity": 1, "size": 900},
         "encoding": {
           "color": {"field": "sample", "type": "nominal", "scale": {"range": ["#000000"]}, "legend": {"title": null, "orient": "none", "legendX": 1047, "legendY": 167, "labelOffset": 59, "symbolSize": 900}},
           "shape": {"field": "sample", "type": "nominal", "scale": {"range": ["circle"]}, "legend": {"title": null, "orient": "none", "legendX": 1047, "legendY": 167, "labelOffset": 59, "symbolSize": 900}}
         }},
        {"data": {"name": "labels"}, "transform": [{"filter": "datum.sample === '2#'"}], "mark": {"type": "text", "font": "Liberation Sans, sans-serif", "fontSize": 57, "color": "black"}, "encoding": {"text": {"field": "label"}}}
      ]
    },
    {
      "width": 1371,
      "height": 1062,
      "title": {"text": "(c)"},
      "encoding": {
        "x": {"field": "temp", "type": "quantitative", "scale": {"domain": [-20, 30], "nice": false}, "axis": {"title": "Temperature of asphalt mixture mixed with 5°C CPCM (°C)", "values": [-20, -15, -10, -5, 0, 5, 10, 15, 20, 25, 30], "labelExpr": "datum.value % 10 === 0 ? '' + datum.value : ''", "tickSize": {"condition": {"test": "datum.value % 10 === 0", "value": 14}, "value": 8}}},
        "y": {"field": "cp", "type": "quantitative", "scale": {"domain": [0, 2800], "nice": false}, "axis": {"title": "Specific\u00a0\u00a0\u00a0heat\u00a0\u00a0\u00a0capacity\u00a0\u00a0\u00a0(J/(kg*\u00a0°C))", "titleY": 480, "values": [0, 200, 400, 600, 800, 1000, 1200, 1400, 1600, 1800, 2000, 2200, 2400, 2600, 2800], "labelExpr": "datum.value % 400 === 0 ? '' + datum.value : ''", "tickSize": {"condition": {"test": "datum.value % 400 === 0", "value": 14}, "value": 8}}}
      },
      "layer": [
        {"data": {"name": "rules"}, "transform": [{"filter": "datum.sample === '3#'"}], "mark": {"type": "rule", "color": "#ff0000", "strokeWidth": 2.5, "strokeDash": [16, 5, 3, 5]}, "encoding": {"y2": {"field": "cp_top"}}},
        {"data": {"name": "points"}, "transform": [{"filter": "datum.sample === '3#'"}], "mark": {"type": "point", "filled": true, "opacity": 1, "size": 1156},
         "encoding": {
           "color": {"field": "sample", "type": "nominal", "scale": {"range": ["#000000"]}, "legend": {"title": null, "orient": "none", "legendX": 977, "legendY": 110, "labelOffset": 67, "symbolSize": 1156}},
           "shape": {"field": "sample", "type": "nominal", "scale": {"range": ["triangle-up"]}, "legend": {"title": null, "orient": "none", "legendX": 977, "legendY": 110, "labelOffset": 67, "symbolSize": 1156}}
         }},
        {"data": {"name": "labels"}, "transform": [{"filter": "datum.sample === '3#'"}], "mark": {"type": "text", "font": "Liberation Sans, sans-serif", "fontSize": 57, "color": "black"}, "encoding": {"text": {"field": "label"}}}
      ]
    },
    {
      "width": 1377,
      "height": 1062,
      "title": {"text": "(d)"},
      "encoding": {
        "x": {"field": "temp", "type": "quantitative", "scale": {"domain": [-20, 30], "nice": false}, "axis": {"title": "Temperature of asphalt mixture mixed with 5°C CPCM (°C)", "values": [-20, -15, -10, -5, 0, 5, 10, 15, 20, 25, 30], "labelExpr": "datum.value % 10 === 0 ? '' + datum.value : ''", "tickSize": {"condition": {"test": "datum.value % 10 === 0", "value": 14}, "value": 8}}},
        "y": {"field": "cp", "type": "quantitative", "scale": {"domain": [0, 2800], "nice": false}, "axis": {"title": "Specific\u00a0\u00a0\u00a0heat\u00a0\u00a0\u00a0capacity\u00a0\u00a0\u00a0(J/(kg*\u00a0°C))", "titleY": 522, "values": [0, 200, 400, 600, 800, 1000, 1200, 1400, 1600, 1800, 2000, 2200, 2400, 2600, 2800], "labelExpr": "datum.value % 400 === 0 ? '' + datum.value : ''", "tickSize": {"condition": {"test": "datum.value % 400 === 0", "value": 14}, "value": 8}}}
      },
      "layer": [
        {"data": {"name": "rules"}, "transform": [{"filter": "datum.sample === '4 #'"}], "mark": {"type": "rule", "color": "#ff0000", "strokeWidth": 2.5, "strokeDash": [16, 5, 3, 5]}, "encoding": {"y2": {"field": "cp_top"}}},
        {"data": {"name": "points"}, "transform": [{"filter": "datum.sample === '4 #'"}], "mark": {"type": "point", "filled": true, "opacity": 1, "size": 1156},
         "encoding": {
           "color": {"field": "sample", "type": "nominal", "scale": {"range": ["#000000"]}, "legend": {"title": null, "orient": "none", "legendX": 1031, "legendY": 125, "labelOffset": 46, "symbolSize": 1156, "labelExpr": "replace(datum.label, ' ', '\u00a0\u00a0\u00a0')"}},
           "shape": {"field": "sample", "type": "nominal", "scale": {"range": ["triangle-down"]}, "legend": {"title": null, "orient": "none", "legendX": 1031, "legendY": 125, "labelOffset": 46, "symbolSize": 1156, "labelExpr": "replace(datum.label, ' ', '\u00a0\u00a0\u00a0')"}}
         }},
        {"data": {"name": "labels"}, "transform": [{"filter": "datum.sample === '4 #'"}], "mark": {"type": "text", "font": "Liberation Sans, sans-serif", "fontSize": 57, "color": "black"}, "encoding": {"text": {"field": "label"}}}
      ]
    }
  ],
  "config": {
    "view": {"stroke": null},
    "axis": {
      "grid": false,
      "domainColor": "black",
      "domainWidth": 4.5,
      "tickColor": "black",
      "tickWidth": 4,
      "labelFont": "Liberation Sans, sans-serif",
      "labelFontSize": 36,
      "labelColor": "black",
      "titleColor": "black",
      "titleFontWeight": "normal"
    },
    "axisX": {"labelPadding": 30, "labelAngle": 0, "titleFont": "Liberation Sans, sans-serif", "titleFontSize": 53, "titlePadding": 15},
    "axisY": {"labelPadding": 8, "titleFont": "Liberation Sans, sans-serif", "titleFontSize": 58, "titlePadding": 53},
    "legend": {"labelFont": "Liberation Sans, sans-serif", "labelFontSize": 54, "labelColor": "black", "symbolStrokeWidth": 0, "padding": 0},
    "title": {"font": "Liberation Serif, serif", "fontSize": 80, "fontWeight": "bold", "color": "black", "orient": "bottom", "offset": 87, "dx": -105}
  }
}
